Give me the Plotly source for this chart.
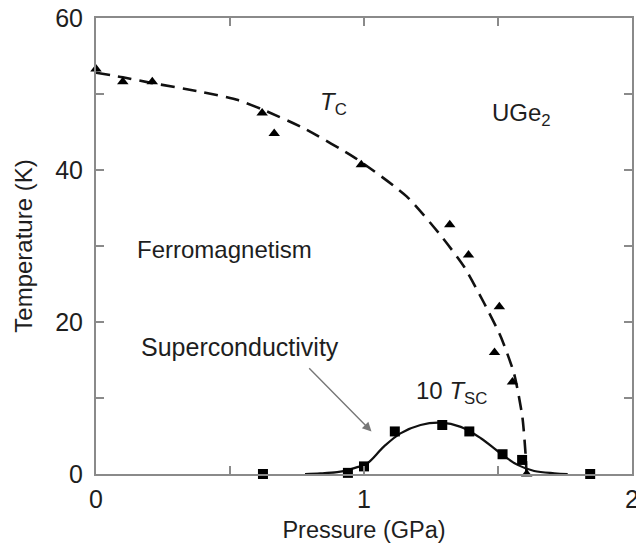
import plotly.graph_objects as go

# Tc data points (triangles)
tc_p = [0.0, 0.10, 0.21, 0.62, 0.665, 0.99, 1.32, 1.39, 1.505, 1.487, 1.554, 1.607]
tc_t = [53.3, 51.6, 51.6, 47.5, 44.8, 40.7, 32.8, 28.8, 22.0, 16.0, 12.1, 0.0]

# 10*Tsc data points (squares)
sc_p = [0.623, 0.94, 1.0, 1.115, 1.292, 1.393, 1.517, 1.59, 1.844]
sc_t = [0.0, 0.15, 1.0, 5.6, 6.45, 5.6, 2.6, 1.85, 0.0]

# Tc guide curve (dashed)
tc_curve_p = [0.0, 0.10, 0.20, 0.39, 0.53, 0.625, 0.775, 0.975, 1.16, 1.286, 1.373, 1.448, 1.51, 1.56, 1.591, 1.604, 1.606]
tc_curve_t = [52.8, 52.2, 51.5, 50.3, 49.2, 47.9, 45.5, 41.4, 36.5, 31.4, 27.3, 22.5, 18.1, 13.2, 7.5, 2.0, 0.0]

# 10*Tsc guide curve (solid)
sc_curve_p = [0.78, 0.837, 0.90, 0.937, 0.975, 1.012, 1.074, 1.136, 1.211, 1.286, 1.361, 1.436, 1.51, 1.573, 1.635, 1.71, 1.76]
sc_curve_t = [0.0, 0.08, 0.25, 0.5, 0.9, 1.4, 3.6, 5.35, 6.45, 6.75, 6.2, 4.7, 2.7, 1.2, 0.4, 0.1, 0.0]

TXT = "#1e1e1e"
AX = "#8a8a8a"
FONT = "Liberation Sans, Arial, sans-serif"

fig = go.Figure()
fig.add_trace(go.Scatter(x=tc_curve_p, y=tc_curve_t, mode="lines",
                         line=dict(color="#111111", width=2.6, dash="14px,8px",
                                   shape="spline", smoothing=0.6),
                         cliponaxis=False, hoverinfo="skip"))
fig.add_trace(go.Scatter(x=sc_curve_p, y=sc_curve_t, mode="lines",
                         line=dict(color="#111111", width=2.2, shape="spline"),
                         cliponaxis=False, hoverinfo="skip"))
fig.add_trace(go.Scatter(x=tc_p, y=tc_t, mode="markers",
                         marker=dict(symbol="triangle-up", size=10, color="#000000"),
                         cliponaxis=False))
fig.add_trace(go.Scatter(x=sc_p, y=sc_t, mode="markers",
                         marker=dict(symbol="square", size=10, color="#000000"),
                         cliponaxis=False))

ann_font = dict(family=FONT, size=24, color=TXT)
ann_font_l = dict(family=FONT, size=25, color=TXT)
fig.add_annotation(x=0.888, y=48.8, xref="x", yref="y", text="<i>T</i><sub>C</sub>",
                   showarrow=False, font=ann_font)
fig.add_annotation(x=1.586, y=47.3, xref="x", yref="y", text="UGe<sub>2</sub>",
                   showarrow=False, font=ann_font)
fig.add_annotation(x=0.478, y=29.6, xref="x", yref="y", text="Ferromagnetism",
                   showarrow=False, font=ann_font)
fig.add_annotation(x=0.537, y=16.7, xref="x", yref="y", text="Superconductivity",
                   showarrow=False, font=ann_font_l)
fig.add_annotation(x=1.325, y=10.7, xref="x", yref="y", text="10 <i>T</i><sub>SC</sub>",
                   showarrow=False, font=ann_font)
# arrow
fig.add_annotation(x=1.028, y=5.6, xref="x", yref="y", ax=0.79, ay=14.1,
                   axref="x", ayref="y", text="", showarrow=True,
                   arrowhead=2, arrowsize=1.3, arrowwidth=1.4, arrowcolor="#777777")

fig.update_layout(
    width=636, height=545,
    margin=dict(l=96, r=4, t=18, b=71, autoexpand=False),
    paper_bgcolor="white", plot_bgcolor="white",
    showlegend=False,
    font=dict(family=FONT, size=24, color=TXT),
)
fig.update_xaxes(
    range=[0, 2], tickvals=[0, 1, 2], ticktext=["0", "1", "2"],
    ticks="inside", ticklen=8, tickwidth=1.5, tickcolor=AX,
    minor=dict(tickvals=[0.5, 1.5], ticks="inside", ticklen=8, tickwidth=1.5, tickcolor=AX),
    showline=True, linecolor=AX, linewidth=2, mirror="ticks",
    showgrid=False, zeroline=False, automargin=False,
    tickfont=dict(family=FONT, size=25, color=TXT),
    ticklabelstandoff=2, ticklabeloverflow="allow",
    title=dict(text="Pressure (GPa)", font=dict(family=FONT, size=23.5, color=TXT), standoff=10),
)
fig.update_yaxes(
    range=[0, 60], tickvals=[0, 20, 40, 60],
    ticks="inside", ticklen=8, tickwidth=1.5, tickcolor=AX,
    minor=dict(tickvals=[10, 30, 50], ticks="inside", ticklen=8, tickwidth=1.5, tickcolor=AX),
    showline=True, linecolor=AX, linewidth=2, mirror="ticks",
    showgrid=False, zeroline=False, automargin=False,
    tickfont=dict(family=FONT, size=25, color=TXT),
    ticklabelstandoff=6,
    title=dict(text="Temperature (K)", font=dict(family=FONT, size=24, color=TXT), standoff=16),
)

fig.write_html("out.html")
